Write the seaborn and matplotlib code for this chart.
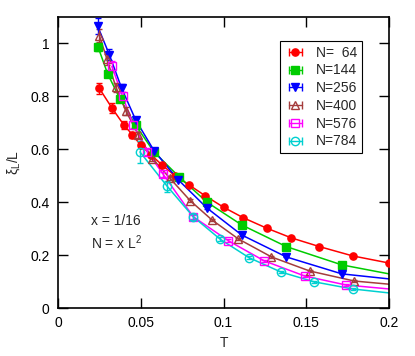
import matplotlib
matplotlib.use("Agg")
import matplotlib.pyplot as plt
from matplotlib.lines import Line2D
from matplotlib.legend_handler import HandlerLine2D
import numpy as np
import pandas as pd
import seaborn as sns

# data
labels = ["N=  64", "N=144", "N=256", "N=400", "N=576", "N=784"]

t_64 = [0.025, 0.0325, 0.040, 0.045, 0.050, 0.056, 0.063, 0.0707, 0.079, 0.089, 0.100, 0.112, 0.126, 0.141, 0.158, 0.178, 0.200]
xi_64 = [0.83, 0.757, 0.69, 0.655, 0.615, 0.58, 0.54, 0.50, 0.466, 0.424, 0.381, 0.341, 0.302, 0.265, 0.232, 0.197, 0.17]
err_64 = [0.022, 0.018, 0.015, 0.012, 0.01, 0.008, 0.006, 0.005, 0.004, 0.003, 0.003, 0.002, 0.002, 0.002, 0.002, 0.002, 0.002]

t_144 = [0.0243, 0.030, 0.0375, 0.047, 0.058, 0.073, 0.090, 0.111, 0.138, 0.1715]
xi_144 = [0.985, 0.885, 0.79, 0.69, 0.59, 0.497, 0.40, 0.314, 0.232, 0.163]
err_144 = [0.015, 0.012, 0.01, 0.008, 0.006, 0.004, 0.003, 0.003, 0.002, 0.002]

t_256 = [0.024, 0.031, 0.0385, 0.047, 0.058, 0.0726, 0.090, 0.111, 0.138, 0.1715]
xi_256 = [1.065, 0.958, 0.83, 0.71, 0.595, 0.485, 0.378, 0.276, 0.193, 0.129]
err_256 = [0.03, 0.02, 0.015, 0.012, 0.008, 0.005, 0.004, 0.003, 0.002, 0.002]

t_400 = [0.025, 0.0296, 0.035, 0.041, 0.0485, 0.057, 0.0677, 0.080, 0.093, 0.109, 0.129, 0.152, 0.179]
xi_400 = [1.03, 0.94, 0.835, 0.745, 0.655, 0.565, 0.49, 0.405, 0.333, 0.261, 0.193, 0.14, 0.102]
err_400 = [0.025, 0.02, 0.017, 0.014, 0.012, 0.01, 0.008, 0.006, 0.005, 0.004, 0.003, 0.003, 0.002]

t_576 = [0.0326, 0.039, 0.0455, 0.054, 0.0636, 0.0817, 0.103, 0.1247, 0.149, 0.174]
xi_576 = [0.913, 0.80, 0.693, 0.59, 0.505, 0.345, 0.254, 0.178, 0.121, 0.087]
err_576 = [0.02, 0.017, 0.014, 0.012, 0.01, 0.007, 0.005, 0.004, 0.003, 0.003]

t_784 = [0.0495, 0.066, 0.0817, 0.098, 0.1155, 0.1347, 0.1547, 0.178]
xi_784 = [0.59, 0.46, 0.345, 0.26, 0.19, 0.136, 0.099, 0.072]
err_784 = [0.04, 0.02, 0.012, 0.008, 0.006, 0.004, 0.003, 0.003]

# value of each fit line at the right edge T = 0.2
fit_end = [0.17, 0.129, 0.11, 0.09, 0.072, 0.057]

ts = [t_64, t_144, t_256, t_400, t_576, t_784]
xis = [xi_64, xi_144, xi_256, xi_400, xi_576, xi_784]
errs = [err_64, err_144, err_256, err_400, err_576, err_784]

colors = ["#ff0000", "#00cc00", "#0000ff", "#a53c3c", "#ff00ff", "#00d0d0"]
markers = ["o", "s", "v", "^", "s", "o"]
filled = [True, True, True, False, False, False]
msizes = [5.2, 5.2, 5.2, 6.0, 6.0, 6.0]

sns.set_style("ticks")
plt.rcParams["font.family"] = ["Liberation Sans", "DejaVu Sans"]
plt.rcParams["mathtext.fontset"] = "custom"
plt.rcParams["mathtext.rm"] = "Liberation Sans"
plt.rcParams["mathtext.it"] = "Liberation Sans"

fig = plt.figure(figsize=(4.15, 3.56), dpi=100)
ax = fig.add_axes([58 / 415, 1 - 308 / 356, 331 / 415, 291 / 356])

# fit lines
rows = []
for lab, t, xi, end in zip(labels, ts, xis, fit_end):
    tt = list(t) + ([0.2] if t[-1] < 0.2 else [])
    vv = list(xi) + ([end] if t[-1] < 0.2 else [])
    for a, b in zip(tt, vv):
        rows.append({"T": a, "xi": b, "N": lab})
df = pd.DataFrame(rows)
sns.lineplot(data=df, x="T", y="xi", hue="N", palette=colors, sort=True,
             estimator=None, linewidth=1.1, legend=False, ax=ax)

handles = []
hmap = {}
for lab, t, xi, err, c, m, f, ms in zip(labels, ts, xis, errs, colors, markers, filled, msizes):
    mfc = c if f else "none"
    ax.errorbar(t, xi, yerr=err, fmt=m, color=c, mfc=mfc, mec=c, ms=ms,
                mew=1.0, elinewidth=1.0, capsize=2.5, capthick=1.0, zorder=3)
    bar = Line2D([0, 1], [0, 0], color=c, lw=1.0, marker="|", ms=6, mew=1.0)
    mk = Line2D([0], [0], color=c, lw=0, marker=m, mfc=mfc, mec=c, ms=ms, mew=1.0)
    hmap[bar] = HandlerLine2D(numpoints=2)
    hmap[mk] = HandlerLine2D(numpoints=1)
    handles.append((bar, mk))

ax.set_xlim(0, 0.2)
ax.set_ylim(0, 1.1)
ax.set_xticks([0, 0.05, 0.1, 0.15, 0.2])
ax.set_xticklabels(["0", "0.05", "0.1", "0.15", "0.2"])
ax.set_yticks([0, 0.2, 0.4, 0.6, 0.8, 1.0])
ax.set_yticklabels(["0", "0.2", "0.4", "0.6", "0.8", "1"])
ax.tick_params(direction="in", length=7, width=1.0, top=True, right=True,
               labelsize=10, colors="black", pad=6)
for s in ax.spines.values():
    s.set_linewidth(1.2)
    s.set_color("black")

ax.set_xlabel("T", fontsize=10, labelpad=4)
ax.set_ylabel(r"$\xi_L$/L", fontsize=10, labelpad=6)

ax.text(0.02, 0.33, "x = 1/16", fontsize=10, va="center")
ax.text(0.02, 0.245, r"N = x L$^2$", fontsize=10, va="center")

leg = ax.legend(handles, labels, handler_map=hmap, loc="upper right",
                bbox_to_anchor=(0.918, 0.918), borderaxespad=0, fontsize=10,
                frameon=True, fancybox=False, edgecolor="black", framealpha=1,
                handlelength=1.5, handletextpad=0.7, labelspacing=0.27,
                borderpad=0.35)
leg.get_frame().set_linewidth(0.8)

fig.savefig("out.png", dpi=100)
